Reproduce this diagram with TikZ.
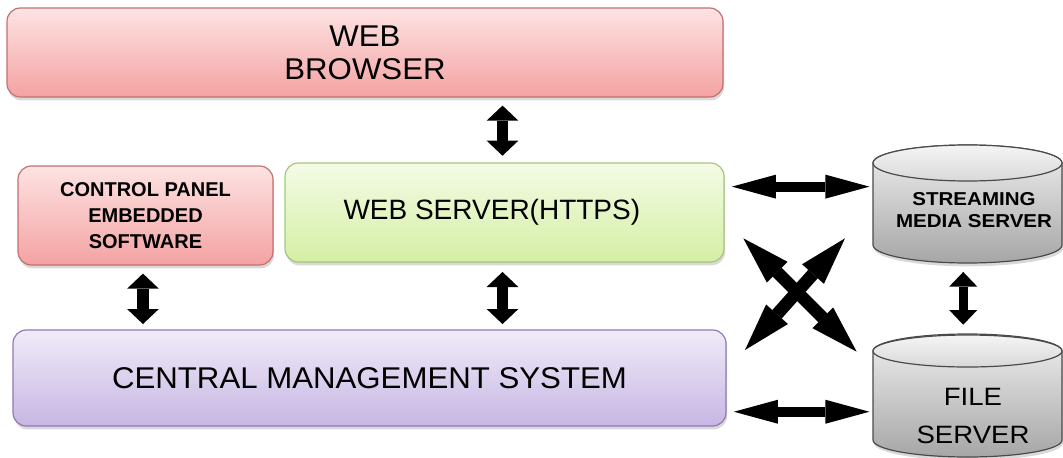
\documentclass[tikz,border=0pt]{standalone}
\usepackage{fontspec}
\setmainfont{Liberation Sans}
\newfontfamily\wide[FakeStretch=1.04]{Liberation Sans}
\newfontfamily\widebold[FakeStretch=1.1]{Liberation Sans}
\usetikzlibrary{arrows.meta,shadows}
\definecolor{pinkT}{HTML}{FDE3E3}
\definecolor{pinkB}{HTML}{F4A2A2}
\definecolor{pinkD}{HTML}{C47070}
\definecolor{greenT}{HTML}{F4FBE6}
\definecolor{greenB}{HTML}{D4EFA4}
\definecolor{greenD}{HTML}{A6C67C}
\definecolor{purpT}{HTML}{F0EBF8}
\definecolor{purpB}{HTML}{C7B6E4}
\definecolor{purpD}{HTML}{8E7BB3}
\definecolor{grayT}{HTML}{EFEFEF}
\definecolor{grayB}{HTML}{A6A6A6}
\definecolor{grayD}{HTML}{4A4A4A}
\begin{document}
\begin{tikzpicture}[x=0.75pt,y=-0.75pt,
  shadowed/.style={drop shadow={opacity=0.3, shadow xshift=0.8pt, shadow yshift=-2.5pt}},
  box/.style={draw, line width=0.9pt, rounded corners=10pt, inner sep=0pt, align=center, shadowed},
  cylbody/.style={inner sep=0pt, minimum width=141.75pt},
  cylshape/.style={top color=grayT, bottom color=grayB, draw=grayD, line width=0.9pt},
  cyltop/.style={top color=white!92!gray, bottom color=grayT!80!gray, draw=grayD, line width=0.9pt},
  varrow/.style={line width=8.8pt, arrows={Triangle[width=23.8pt,length=11.3pt,line width=0pt]-Triangle[width=23.8pt,length=11.3pt,line width=0pt]}},
  sarrow/.style={line width=6.5pt, arrows={Triangle[width=21pt,length=11pt,line width=0pt]-Triangle[width=21pt,length=11pt,line width=0pt]}},
  harrow/.style={line width=7.5pt, arrows={Triangle[width=18pt,length=33pt,line width=0pt]-Triangle[width=18pt,length=33pt,line width=0pt]}},
  darrow/.style={line width=9.5pt, arrows={Triangle[width=22pt,length=36pt,line width=0pt]-Triangle[width=22pt,length=36pt,line width=0pt]}}
]
\useasboundingbox (0,0) rectangle (1063,457);

% boxes
\node[box, top color=pinkT, bottom color=pinkB, draw=pinkD,
      minimum width=537pt, minimum height=66.75pt,
      font=\wide\fontsize{22.5}{25}\selectfont] (browser) at (365,52.5) {WEB\\BROWSER};
\node[box, top color=pinkT, bottom color=pinkB, draw=pinkD,
      minimum width=191.25pt, minimum height=74.25pt,
      font=\bfseries\fontsize{15}{19.3}\selectfont] (cp) at (145.5,215.5) {CONTROL PANEL\\EMBEDDED\\SOFTWARE};
\node[box, top color=greenT, bottom color=greenB, draw=greenD,
      minimum width=329.25pt, minimum height=74.25pt,
      font=\fontsize{21}{25}\selectfont] (ws) at (504.5,212.5) {WEB SERVER(HTTPS)\hspace*{19pt}};
\node[box, top color=purpT, bottom color=purpB, draw=purpD,
      minimum width=534.75pt, minimum height=72pt,
      font=\wide\fontsize{22.5}{25}\selectfont] (cms) at (369.5,378) {CENTRAL MANAGEMENT SYSTEM};

% cylinders
\shade[cylshape, shadowed] (873,163) -- (873,245)
  arc[start angle=180, end angle=360, x radius=70.875pt, y radius=13.5pt]
  -- (1062,163)
  arc[start angle=0, end angle=180, x radius=70.875pt, y radius=13.5pt] -- cycle;
\shade[cyltop] (967.5,163) ellipse [x radius=70.875pt, y radius=13.5pt];
\node[cylbody, minimum height=88.5pt] (sms) at (967.5,204) {};
\node[align=center, font=\widebold\bfseries\fontsize{14}{16.3}\selectfont] (smstext) at (974,210) {STREAMING\\MEDIA SERVER};

\shade[cylshape, shadowed] (873,351) -- (873,440)
  arc[start angle=180, end angle=360, x radius=70.875pt, y radius=12.75pt]
  -- (1062,351)
  arc[start angle=0, end angle=180, x radius=70.875pt, y radius=12.75pt] -- cycle;
\shade[cyltop] (967.5,351) ellipse [x radius=70.875pt, y radius=12pt];
\node[cylbody, minimum height=91.5pt] (fs) at (967.5,396) {};
\node[align=center, font=\widebold\fontsize{18.8}{28.5}\selectfont] (fstext) at (973,416) {FILE\\SERVER};

% connectors
\draw[varrow, shorten <=5pt, shorten >=6pt] ([xshift=-1.5pt]ws.north) -- ([xshift=-1.5pt]ws.north |- browser.south);
\draw[varrow, shorten <=6pt, shorten >=4pt] ([xshift=-1.9pt]cp.south) -- ([xshift=-1.9pt]cp.south |- cms.north);
\draw[varrow, shorten <=7pt, shorten >=4pt] ([xshift=-1.5pt]ws.south) -- ([xshift=-1.5pt]ws.south |- cms.north);
\draw[sarrow, shorten <=6.5pt, shorten >=7.5pt] ([xshift=-3.2pt]sms.south) -- ([xshift=-3.2pt]sms.south |- fs.north);
\draw[harrow, shorten <=5.5pt, shorten >=2.5pt] ([yshift=19.4pt]ws.east) -- ([yshift=19.4pt]ws.east -| sms.west);
\draw[harrow, shorten <=5.5pt, shorten >=2.5pt] ([yshift=-25.3pt]cms.east) -- ([yshift=-25.3pt]cms.east -| fs.west);

\coordinate (dA1) at (745,350);
\coordinate (dA2) at (845,238.3);
\coordinate (dB1) at (743.3,238.3);
\coordinate (dB2) at (856.7,351.7);
\draw[darrow] (dA1) -- (dA2);
\draw[darrow] (dB1) -- (dB2);
\end{tikzpicture}
\end{document}
